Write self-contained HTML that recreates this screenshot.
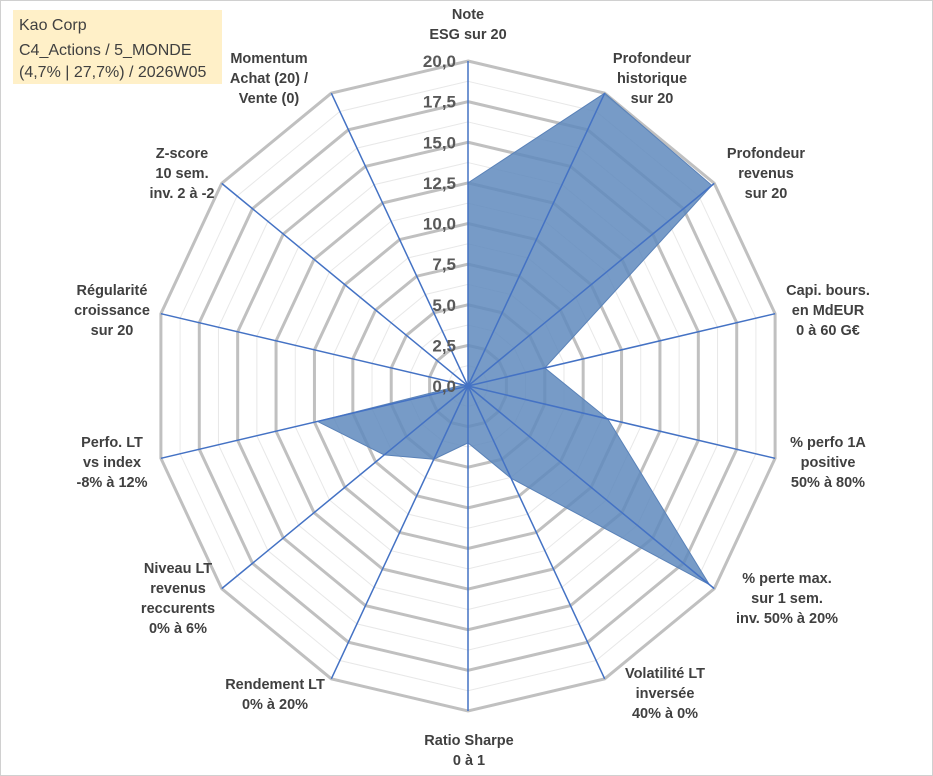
<!DOCTYPE html>
<html><head><meta charset="utf-8"><style>
body{margin:0;background:#fff;}
svg{display:block;font-family:"Liberation Sans",sans-serif;}
</style></head><body>
<svg id="c" width="933" height="776">
<rect x="0.5" y="0.5" width="932" height="775" fill="#fff" stroke="#d0d0d0"/>
<rect x="13" y="10" width="209" height="74" fill="#fff0c8"/>
<text x="19" y="30" font-size="16" fill="#404040">Kao Corp</text>
<text x="19" y="55" font-size="16" fill="#404040">C4_Actions / 5_MONDE</text>
<text x="19" y="77" font-size="16" fill="#404040">(4,7% | 27,7%) / 2026W05</text>
<g id="grid"></g><g id="ser"></g><g id="spk"></g><g id="lab"></g>
</svg>
<script>
const categories=[["Note","ESG sur 20"],["Profondeur","historique","sur 20"],["Profondeur","revenus","sur 20"],["Capi. bours.","en MdEUR","0 à 60 G€"],["% perfo 1A","positive","50% à 80%"],["% perte max.","sur 1 sem.","inv. 50% à 20%"],["Volatilité LT","inversée","40% à 0%"],["Ratio Sharpe","0 à 1"],["Rendement LT","0% à 20%"],["Niveau LT","revenus","reccurents","0% à 6%"],["Perfo. LT","vs index","-8% à 12%"],["Régularité","croissance","sur 20"],["Z-score","10 sem.","inv. 2 à -2"],["Momentum","Achat (20) /","Vente (0)"]];
const values=[12.5,20,19.8,5,9.1,19.6,6.3,3.5,5,6.8,9.8,0.3,0,0];
const ticks=[0,2.5,5,7.5,10,12.5,15,17.5,20];
const tickLabels=["0,0","2,5","5,0","7,5","10,0","12,5","15,0","17,5","20,0"];
const labelPos=[[468,14],[652,58],[766,153],[828,290],[828,442],[787,578],[665,673],[469,740],[275,684],[178,568],[112,442],[112,290],[182,153],[269,58]];
const CX=468,CY=386,RX=315,RY=325,MAX=20,N=categories.length;
const NS="http://www.w3.org/2000/svg";
function pt(i,v){const a=i*2*Math.PI/N;return [CX+v/MAX*RX*Math.sin(a),CY-v/MAX*RY*Math.cos(a)];}
function mk(t,at,p){const e=document.createElementNS(NS,t);for(const k in at)e.setAttribute(k,at[k]);p.appendChild(e);return e;}
const g=document.getElementById('grid');
for(let k=1;k<=16;k++){const v=k*1.25;const major=k%2===0;
 const pts=categories.map((c,i)=>pt(i,v).join(',')).join(' ');
 const e=mk('polygon',{points:pts,fill:'none',stroke:major?'#c0c0c0':'#e8e8e8','stroke-width':major?3:1},g);
 
 }
const s=document.getElementById('ser');
const sp=mk('polygon',{points:values.map((v,i)=>pt(i,v).join(',')).join(' '),fill:'#5f89bd','fill-opacity':'0.85',stroke:'#5a82b8','stroke-width':1},s);


const k2=document.getElementById('spk');
categories.forEach((c,i)=>{const p=pt(i,MAX);
 const l=mk('line',{x1:CX,y1:CY,x2:p[0],y2:p[1],stroke:'#4472c4','stroke-width':1.5},k2);
 
 });
const lb=document.getElementById('lab');
ticks.forEach((t,j)=>{const y=CY-t/MAX*RY;
 const e=mk('text',{x:CX-12,y:y+6,'text-anchor':'end','font-size':17,'font-weight':'bold',fill:'#595959'},lb);
 e.textContent=tickLabels[j];
 
 });
categories.forEach((c,i)=>{const [x,y]=labelPos[i];
 const e=mk('text',{x:x,y:y+5,'text-anchor':'middle','font-size':14.5,'font-weight':'bold',fill:'#404040'},lb);
 c.forEach((line,j)=>{const ts=mk('tspan',{x:x,dy:j?20:0},e);ts.textContent=line;});
 
 });
</script>
</body></html>
